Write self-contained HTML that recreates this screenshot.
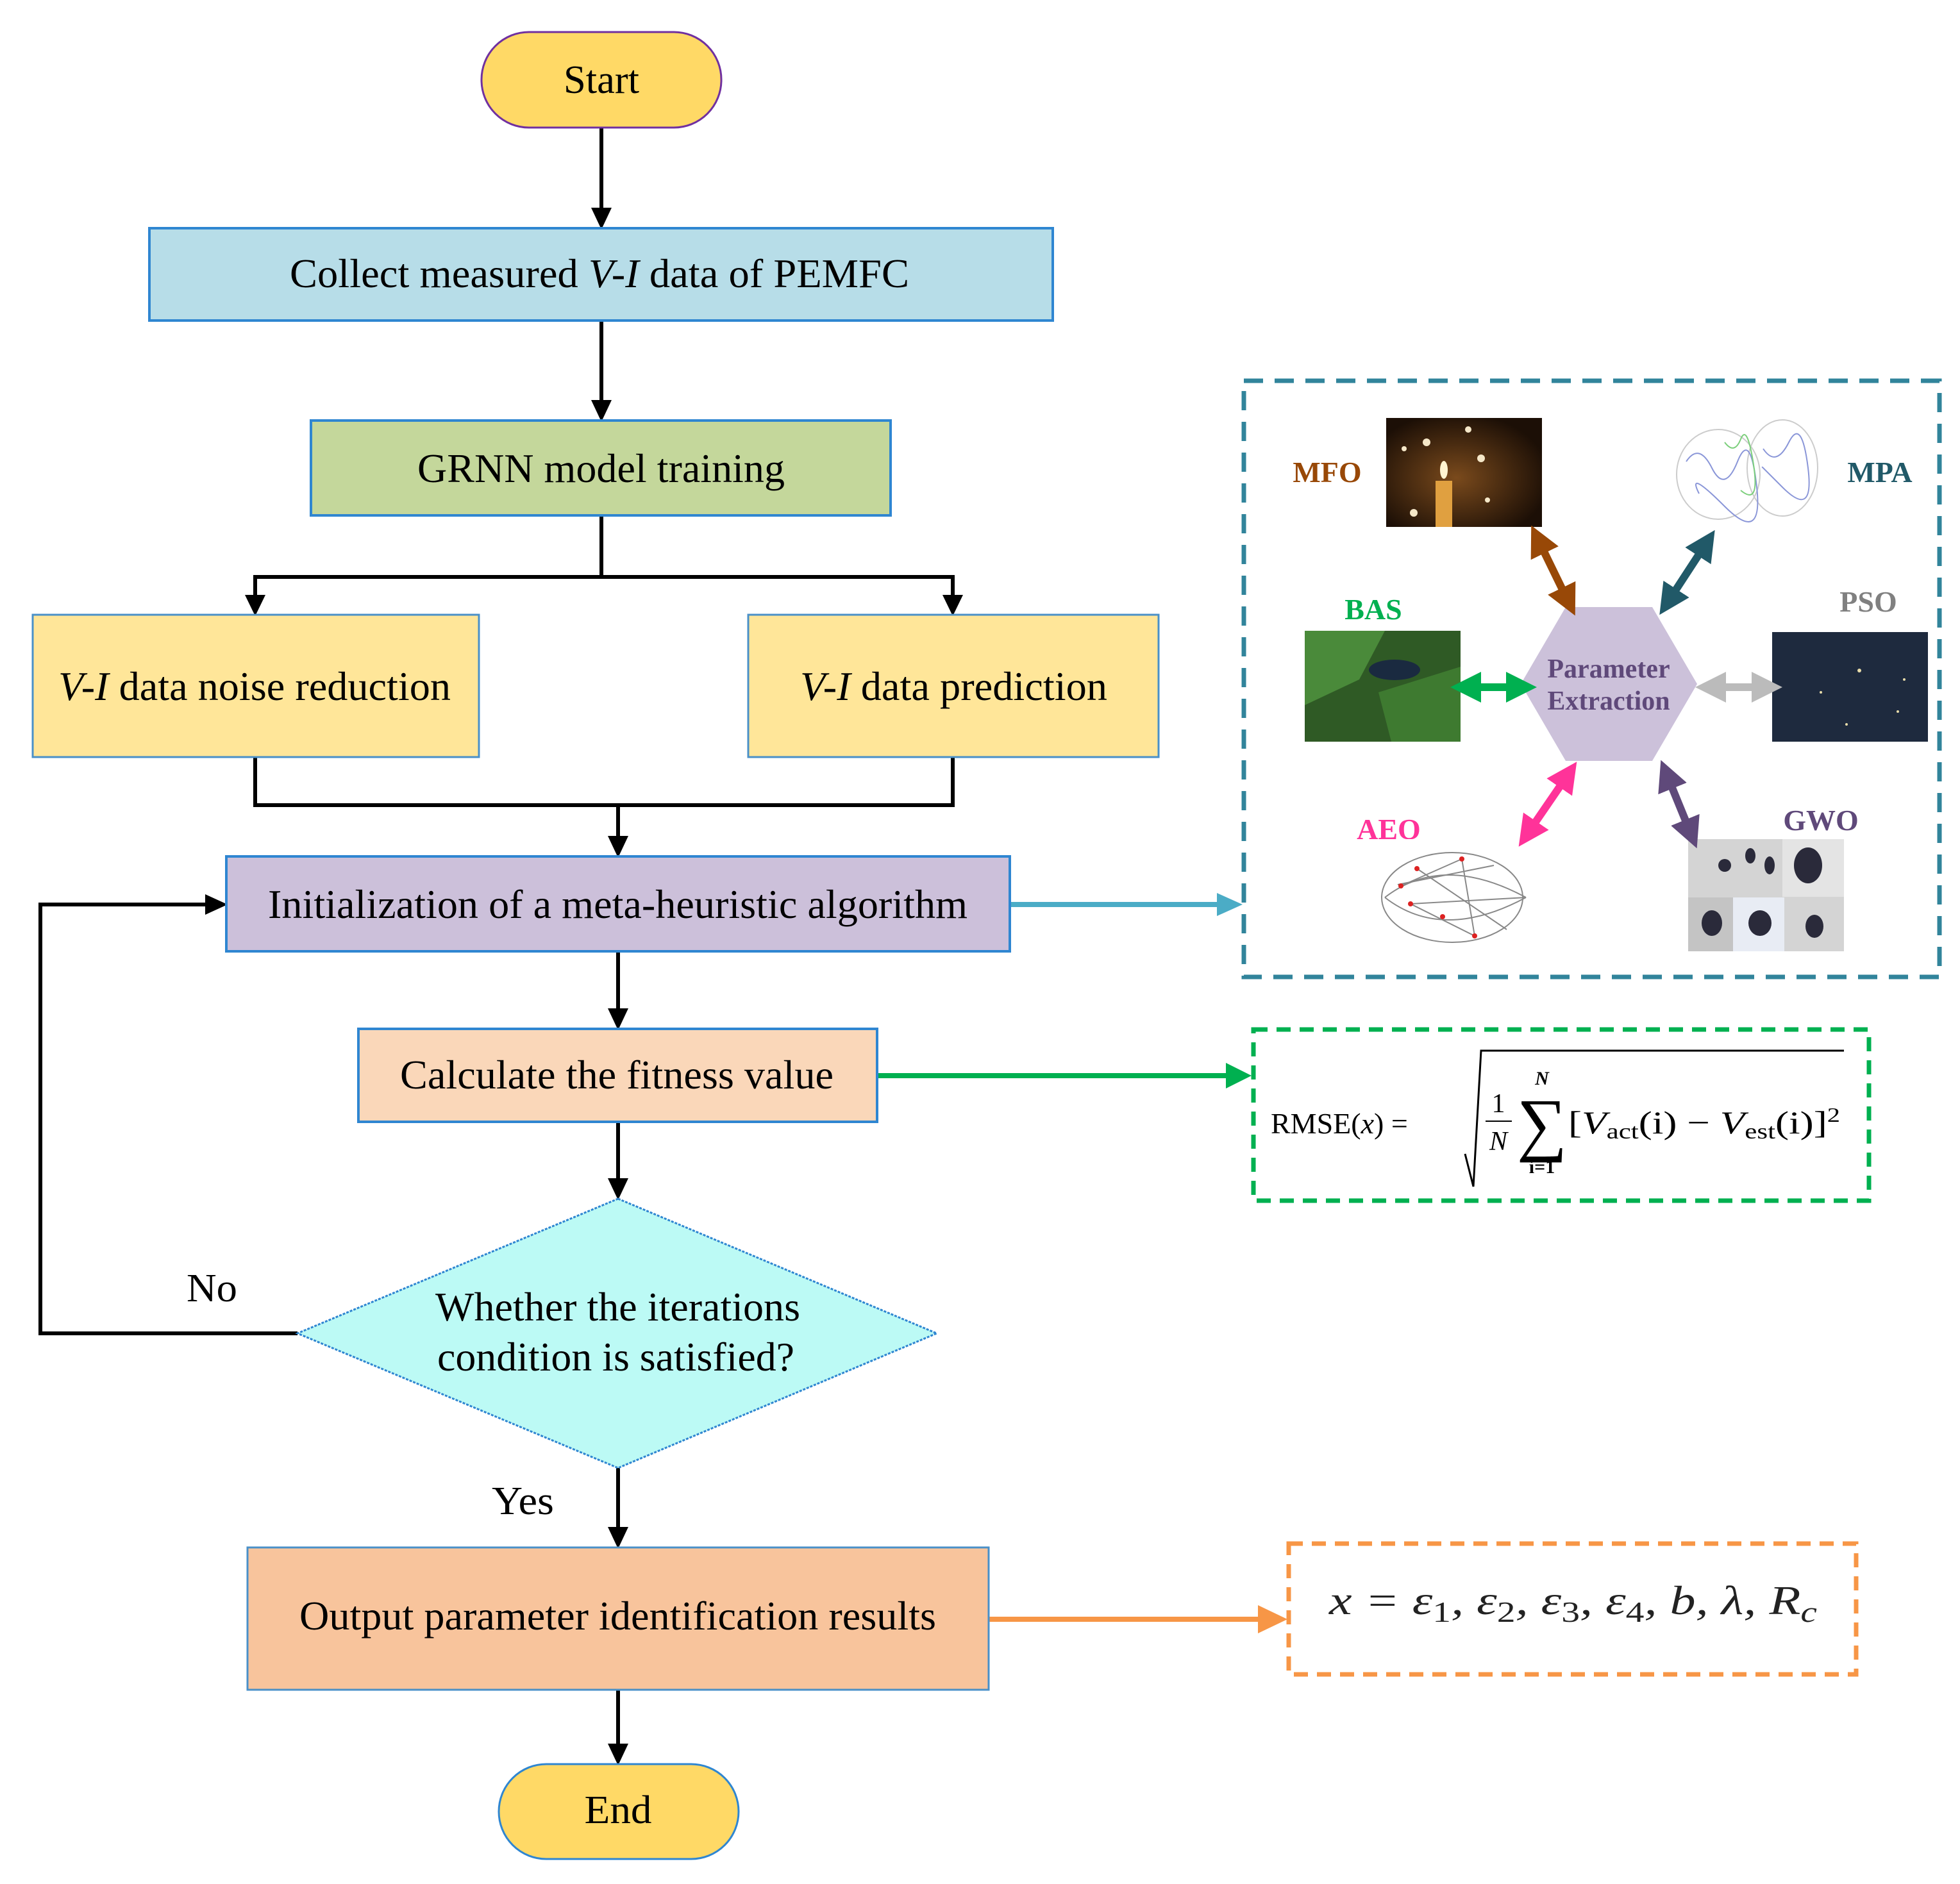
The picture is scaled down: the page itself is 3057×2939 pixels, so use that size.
<!DOCTYPE html>
<html><head><meta charset="utf-8"><style>
html,body{margin:0;padding:0;background:#fff;}
svg{display:block;}
text{font-family:"Liberation Serif","DejaVu Serif",serif;}
</style></head><body>
<svg width="3057" height="2939" viewBox="0 0 3057 2939" xmlns="http://www.w3.org/2000/svg">
<defs>
<marker id="m1" markerWidth="4" markerHeight="4" refX="1" refY="2" orient="auto-start-reverse" viewBox="0 0 4 4"><path d="M0,0 L4,2 L0,4 Z" fill="#984807"/></marker>
<marker id="m2" markerWidth="4" markerHeight="4" refX="1" refY="2" orient="auto-start-reverse" viewBox="0 0 4 4"><path d="M0,0 L4,2 L0,4 Z" fill="#215968"/></marker>
<marker id="m3" markerWidth="4" markerHeight="4" refX="1" refY="2" orient="auto-start-reverse" viewBox="0 0 4 4"><path d="M0,0 L4,2 L0,4 Z" fill="#00b050"/></marker>
<marker id="m4" markerWidth="4" markerHeight="4" refX="1" refY="2" orient="auto-start-reverse" viewBox="0 0 4 4"><path d="M0,0 L4,2 L0,4 Z" fill="#bbb"/></marker>
<marker id="m5" markerWidth="4" markerHeight="4" refX="1" refY="2" orient="auto-start-reverse" viewBox="0 0 4 4"><path d="M0,0 L4,2 L0,4 Z" fill="#ff3399"/></marker>
<marker id="m6" markerWidth="4" markerHeight="4" refX="1" refY="2" orient="auto-start-reverse" viewBox="0 0 4 4"><path d="M0,0 L4,2 L0,4 Z" fill="#5f497a"/></marker>
<radialGradient id="cand" cx="0.45" cy="0.55" r="0.6"><stop offset="0" stop-color="#7a4a1c"/><stop offset="1" stop-color="#1c0f06"/></radialGradient>
</defs>
<g stroke="#000" stroke-width="6" fill="none">
<line x1="938" y1="199" x2="938" y2="326"/>
<line x1="938" y1="500" x2="938" y2="626"/>
<polyline points="938,804 938,900 398,900 398,930"/>
<polyline points="938,900 1486,900 1486,930"/>
<polyline points="398,1181 398,1256 1486,1256 1486,1181"/>
<line x1="964" y1="1256" x2="964" y2="1306"/>
<line x1="964" y1="1484" x2="964" y2="1575"/>
<line x1="964" y1="1750" x2="964" y2="1840"/>
<line x1="964" y1="2290" x2="964" y2="2384"/>
<line x1="964" y1="2636" x2="964" y2="2722"/>
<polyline points="464,2080 63,2080 63,1411 323,1411"/>
</g>
<g fill="#000">
<path d="M922,324 L954,324 L938,358 Z"/>
<path d="M922,624 L954,624 L938,658 Z"/>
<path d="M382,928 L414,928 L398,961 Z"/>
<path d="M1470,928 L1502,928 L1486,961 Z"/>
<path d="M948,1304 L980,1304 L964,1338 Z"/>
<path d="M948,1573 L980,1573 L964,1607 Z"/>
<path d="M948,1838 L980,1838 L964,1872 Z"/>
<path d="M948,2382 L980,2382 L964,2416 Z"/>
<path d="M948,2720 L980,2720 L964,2754 Z"/>
<path d="M320,1395 L320,1427 L355,1411 Z"/>
</g>
<line x1="1575" y1="1411" x2="1900" y2="1411" stroke="#4bacc6" stroke-width="8"/>
<path d="M1898,1393 L1938,1411 L1898,1429 Z" fill="#4bacc6"/>
<line x1="1368" y1="1678" x2="1915" y2="1678" stroke="#00b050" stroke-width="8"/>
<path d="M1912,1658 L1952,1678 L1912,1698 Z" fill="#00b050"/>
<line x1="1542" y1="2526" x2="1965" y2="2526" stroke="#f79646" stroke-width="8"/>
<path d="M1962,2504 L2008,2526 L1962,2548 Z" fill="#f79646"/>

<rect x="751" y="50" width="374" height="149" rx="74" fill="#ffd966" stroke="#7030a0" stroke-width="3"/>
<text x="938" y="145" font-size="62" text-anchor="middle" textLength="118" lengthAdjust="spacingAndGlyphs">Start</text>
<rect x="233" y="356" width="1409" height="144" fill="#b7dde8" stroke="#2f86d1" stroke-width="4"/>
<text x="452" y="448" font-size="64" textLength="966" lengthAdjust="spacingAndGlyphs">Collect measured <tspan font-style="italic">V-I</tspan> data of PEMFC</text>
<rect x="485" y="656" width="904" height="148" fill="#c4d79b" stroke="#2f86d1" stroke-width="4"/>
<text x="651" y="752" font-size="64" textLength="573" lengthAdjust="spacingAndGlyphs">GRNN model training</text>
<rect x="51" y="959" width="696" height="222" fill="#ffe699" stroke="#4a90c8" stroke-width="3"/>
<text x="91" y="1092" font-size="64" textLength="612" lengthAdjust="spacingAndGlyphs"><tspan font-style="italic">V-I</tspan> data noise reduction</text>
<rect x="1167" y="959" width="640" height="222" fill="#ffe699" stroke="#4a90c8" stroke-width="3"/>
<text x="1248" y="1092" font-size="64" textLength="479" lengthAdjust="spacingAndGlyphs"><tspan font-style="italic">V-I</tspan> data prediction</text>
<rect x="353" y="1336" width="1222" height="148" fill="#ccc0da" stroke="#2f86d1" stroke-width="4"/>
<text x="418" y="1432" font-size="64" textLength="1091" lengthAdjust="spacingAndGlyphs">Initialization of a meta-heuristic algorithm</text>
<rect x="559" y="1605" width="809" height="145" fill="#fad7b9" stroke="#2f86d1" stroke-width="4"/>
<text x="624" y="1698" font-size="64" textLength="676" lengthAdjust="spacingAndGlyphs">Calculate the fitness value</text>
<polygon points="964,1870 1461,2080 964,2290 464,2080" fill="#bcfaf5" stroke="#2f86d1" stroke-width="3" stroke-dasharray="4,2"/>
<text x="679" y="2060" font-size="64" textLength="569" lengthAdjust="spacingAndGlyphs">Whether the iterations</text>
<text x="682" y="2138" font-size="64" textLength="557" lengthAdjust="spacingAndGlyphs">condition is satisfied?</text>
<text x="291" y="2030" font-size="62" textLength="79" lengthAdjust="spacingAndGlyphs">No</text>
<text x="767" y="2362" font-size="62" textLength="97" lengthAdjust="spacingAndGlyphs">Yes</text>
<rect x="386" y="2414" width="1156" height="222" fill="#f8c49c" stroke="#4a90c8" stroke-width="3"/>
<text x="467" y="2542" font-size="64" textLength="993" lengthAdjust="spacingAndGlyphs">Output parameter identification results</text>
<rect x="778" y="2752" width="374" height="148" rx="74" fill="#ffd966" stroke="#2f86d1" stroke-width="3"/>
<text x="964" y="2844" font-size="62" text-anchor="middle" textLength="105" lengthAdjust="spacingAndGlyphs">End</text>

<rect x="1940" y="594" width="1085" height="930" fill="none" stroke="#31849b" stroke-width="7" stroke-dasharray="30,18"/>
<polygon points="2372,1067 2442,947 2577,947 2647,1067 2577,1187 2442,1187" fill="#ccc1da"/>
<text x="2509" y="1057" font-size="42" font-weight="bold" fill="#5f497a" text-anchor="middle">Parameter</text>
<text x="2509" y="1107" font-size="42" font-weight="bold" fill="#5f497a" text-anchor="middle">Extraction</text>
<text x="2070" y="752" font-size="46" font-weight="bold" fill="#984807" text-anchor="middle">MFO</text>
<text x="2932" y="752" font-size="46" font-weight="bold" fill="#215968" text-anchor="middle">MPA</text>
<text x="2142" y="966" font-size="46" font-weight="bold" fill="#00b050" text-anchor="middle">BAS</text>
<text x="2914" y="954" font-size="46" font-weight="bold" fill="#808080" text-anchor="middle">PSO</text>
<text x="2166" y="1309" font-size="46" font-weight="bold" fill="#ff3399" text-anchor="middle">AEO</text>
<text x="2840" y="1295" font-size="46" font-weight="bold" fill="#5f497a" text-anchor="middle">GWO</text>

<rect x="2162" y="652" width="243" height="170" fill="url(#cand)"/>
<rect x="2239" y="750" width="26" height="72" fill="#e0a040"/>
<ellipse cx="2252" cy="733" rx="6" ry="14" fill="#fff4d0"/>
<g fill="#f5e7c8"><circle cx="2225" cy="690" r="6"/><circle cx="2290" cy="670" r="5"/><circle cx="2310" cy="715" r="6"/><circle cx="2205" cy="800" r="6"/><circle cx="2320" cy="780" r="4"/><circle cx="2190" cy="700" r="4"/></g>
<rect x="2607" y="657" width="235" height="162" fill="#fff"/>
<g fill="none" stroke-width="2">
<ellipse cx="2680" cy="740" rx="65" ry="70" stroke="#ccc"/>
<ellipse cx="2780" cy="730" rx="55" ry="75" stroke="#ccc"/>
<path d="M2630,720 q20,-30 40,10 t40,-10 t30,40 t-50,30 t-40,-20" stroke="#8a96d8"/>
<path d="M2750,700 q20,30 40,-10 t30,40 t-40,30 t-20,-20" stroke="#8a96d8"/>
<path d="M2690,690 q15,20 25,-5 t20,40 t-20,40" stroke="#7ccf7c"/>
</g>
<rect x="2035" y="984" width="243" height="173" fill="#2f5a25"/>
<path d="M2035,984 L2160,984 L2120,1060 L2035,1100 Z" fill="#4a8a3a"/>
<path d="M2150,1080 L2278,1040 L2278,1157 L2170,1157 Z" fill="#3e7a30"/>
<ellipse cx="2175" cy="1045" rx="40" ry="16" fill="#1a2a40"/>
<rect x="2764" y="986" width="243" height="171" fill="#1e2a3e"/>
<g fill="#e8dcaa"><circle cx="2900" cy="1046" r="3"/><circle cx="2840" cy="1080" r="2"/><circle cx="2960" cy="1110" r="2"/><circle cx="2880" cy="1130" r="2"/><circle cx="2970" cy="1060" r="2"/></g>
<rect x="2146" y="1309" width="249" height="175" fill="#fff"/>
<g fill="none" stroke="#888" stroke-width="2">
<ellipse cx="2265" cy="1400" rx="110" ry="70"/>
<path d="M2160,1400 Q2250,1330 2380,1400"/><path d="M2160,1400 Q2250,1470 2380,1400"/>
<path d="M2185,1382 L2280,1340 L2300,1460 L2200,1410 L2380,1400"/>
<path d="M2210,1355 L2350,1450 M2180,1380 L2330,1350"/>
</g>
<g fill="#d22"><circle cx="2185" cy="1382" r="4"/><circle cx="2210" cy="1355" r="4"/><circle cx="2280" cy="1340" r="4"/><circle cx="2200" cy="1410" r="4"/><circle cx="2250" cy="1430" r="4"/><circle cx="2300" cy="1460" r="4"/></g>
<rect x="2633" y="1309" width="243" height="175" fill="#d4d4d4"/>
<rect x="2780" y="1309" width="96" height="90" fill="#e4e4e4"/>
<rect x="2633" y="1400" width="70" height="84" fill="#c4c4c4"/>
<rect x="2703" y="1400" width="80" height="84" fill="#e8ecf4"/>
<g fill="#2a2a3a"><ellipse cx="2820" cy="1350" rx="22" ry="28"/><ellipse cx="2670" cy="1440" rx="16" ry="20"/><ellipse cx="2745" cy="1440" rx="18" ry="20"/><ellipse cx="2830" cy="1445" rx="14" ry="18"/><ellipse cx="2690" cy="1350" rx="10" ry="10"/><ellipse cx="2730" cy="1335" rx="8" ry="12"/><ellipse cx="2760" cy="1350" rx="8" ry="14"/></g>

<g stroke-width="12" fill="none">
<line x1="2404" y1="852" x2="2441" y2="928" stroke="#984807" marker-start="url(#m1)" marker-end="url(#m1)"/>
<line x1="2655" y1="857" x2="2608" y2="929" stroke="#215968" marker-start="url(#m2)" marker-end="url(#m2)"/>
<line x1="2298" y1="1072" x2="2361" y2="1072" stroke="#00b050" marker-start="url(#m3)" marker-end="url(#m3)"/>
<line x1="2680" y1="1072" x2="2744" y2="1072" stroke="#bbb" marker-start="url(#m4)" marker-end="url(#m4)"/>
<line x1="2439" y1="1218" x2="2389" y2="1291" stroke="#ff3399" marker-start="url(#m5)" marker-end="url(#m5)"/>
<line x1="2604" y1="1219" x2="2633" y2="1290" stroke="#5f497a" marker-start="url(#m6)" marker-end="url(#m6)"/>
</g>

<rect x="1955" y="1606" width="960" height="267" fill="none" stroke="#00b050" stroke-width="7" stroke-dasharray="22,14"/>
<text x="1982" y="1768" font-size="46">RMSE(<tspan font-style="italic">x</tspan>) =</text>
<polyline points="2285,1800 2298,1851 2310,1639 2876,1639" fill="none" stroke="#000" stroke-width="3"/>
<text x="2337" y="1735" font-size="42" text-anchor="middle">1</text>
<line x1="2317" y1="1749" x2="2358" y2="1749" stroke="#000" stroke-width="2"/>
<text x="2337" y="1794" font-size="42" font-style="italic" text-anchor="middle">N</text>
<text x="2405" y="1692" font-size="30" font-style="italic" font-weight="bold" text-anchor="middle">N</text>
<text x="2405" y="1790" font-size="110" text-anchor="middle">∑</text>
<text x="2405" y="1830" font-size="30" font-weight="bold" text-anchor="middle">i=1</text>
<text x="2446" y="1768" font-size="50" textLength="424" lengthAdjust="spacingAndGlyphs">[<tspan font-style="italic">V</tspan><tspan font-size="34" dy="8">act</tspan><tspan dy="-8">(i) − </tspan><tspan font-style="italic">V</tspan><tspan font-size="34" dy="8">est</tspan><tspan dy="-8">(i)]</tspan><tspan font-size="32" dy="-18">2</tspan></text>

<rect x="2010" y="2408" width="885" height="204" fill="none" stroke="#f79646" stroke-width="7" stroke-dasharray="22,14"/>
<text x="2073" y="2518" font-size="64" font-style="italic" fill="#222" textLength="761" lengthAdjust="spacingAndGlyphs">x = ε<tspan font-style="normal" font-size="46" dy="12">1</tspan><tspan dy="-12">, ε</tspan><tspan font-style="normal" font-size="46" dy="12">2</tspan><tspan dy="-12">, ε</tspan><tspan font-style="normal" font-size="46" dy="12">3</tspan><tspan dy="-12">, ε</tspan><tspan font-style="normal" font-size="46" dy="12">4</tspan><tspan dy="-12">, b, λ, R</tspan><tspan font-size="46" dy="12">c</tspan></text>
</svg>
</body></html>
